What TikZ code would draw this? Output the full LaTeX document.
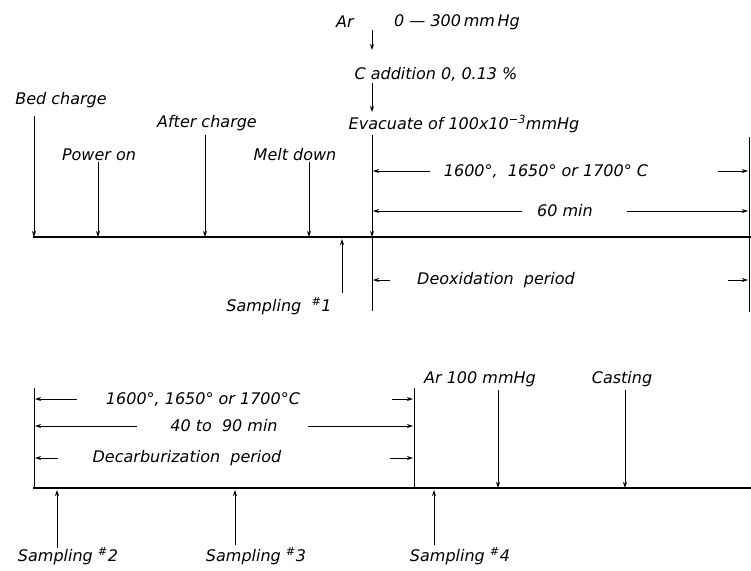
\documentclass[tikz,border=0pt]{standalone}
\usepackage{fontspec}
\setmainfont{DejaVu Sans}
\usetikzlibrary{arrows.meta}
\begin{document}
\begin{tikzpicture}[x=1pt,y=-1pt,
  lbl/.style={inner sep=0pt,font=\fontsize{16}{18}\selectfont\itshape},
  thin line/.style={line width=0.9pt},
  axis/.style={line width=1.2pt},
  arr/.style={line width=0.9pt,-{Stealth[length=6pt,width=4pt]}}]
\useasboundingbox (0,0) rectangle (751,570);
\fill[white] (0,0) rectangle (751,570);
% ---------- top section ----------
\node[lbl] (ar) at (345,22) {Ar};
\node[lbl] (arp) at (457,22) {0 — 300\,mm\,Hg};
\node[lbl] (cadd) at (436,74) {C addition 0, 0.13 \%};
\node[lbl] (evac) at (464,124) {Evacuate of 100x10\textsuperscript{−3}mmHg};
\node[lbl] (bed) at (61,100) {Bed charge};
\node[lbl] (pow) at (99,155) {Power on};
\node[lbl] (aft) at (207,123) {After charge};
\node[lbl] (melt) at (295,155) {Melt down};
\node[lbl] (t1) at (546,171) {1600°,\ \ 1650° or 1700° C};
\node[lbl] (m60) at (565,211) {60 min};
\node[lbl] (deox) at (496,280) {Deoxidation\ \ period};
\node[lbl] (s1) at (279,306) {Sampling\ \ \textsuperscript{\#}1};

\coordinate (tl0) at (33,237);
\coordinate (tl1) at (751,237);
\draw[axis] (tl0) -- (tl1);

\coordinate (ar0) at (372,30);  \coordinate (ar1) at (372,50);
\coordinate (c0) at (372,83);   \coordinate (c1) at (372,112);
\coordinate (e0) at (372,135);  \coordinate (e1) at (372,237);
\coordinate (e2) at (372,311);
\draw[arr] (ar0) -- (ar1);
\draw[arr] (c0) -- (c1);
\draw[arr] (e0) -- (e1);
\draw[thin line] (e1) -- (e2);
\coordinate (r0) at (749,137); \coordinate (r1) at (749,312);
\draw[thin line] (r0) -- (r1);

\coordinate (b0) at (34,116);  \coordinate (b1) at (34,237);
\coordinate (p0) at (98,162);  \coordinate (p1) at (98,237);
\coordinate (a0) at (205,135); \coordinate (a1) at (205,237);
\coordinate (md0) at (309,162);\coordinate (md1) at (309,237);
\draw[arr] (b0) -- (b1);
\draw[arr] (p0) -- (p1);
\draw[arr] (a0) -- (a1);
\draw[arr] (md0) -- (md1);
\coordinate (s10) at (342,293); \coordinate (s11) at (342,239);
\draw[arr] (s10) -- (s11);

\coordinate (tla) at (430,171); \coordinate (tlb) at (373,171);
\coordinate (tra) at (718,171); \coordinate (trb) at (748,171);
\draw[arr] (tla) -- (tlb);
\draw[arr] (tra) -- (trb);
\coordinate (mla) at (522,211); \coordinate (mlb) at (373,211);
\coordinate (mra) at (627,211); \coordinate (mrb) at (748,211);
\draw[arr] (mla) -- (mlb);
\draw[arr] (mra) -- (mrb);
\coordinate (dla) at (390,280); \coordinate (dlb) at (373,280);
\coordinate (dra) at (728,280); \coordinate (drb) at (748,280);
\draw[arr] (dla) -- (dlb);
\draw[arr] (dra) -- (drb);

% ---------- bottom section ----------
\node[lbl] (t2) at (203,399) {1600°,\ 1650° or 1700°C};
\node[lbl] (m40) at (224,426) {40 to\ \ 90 min};
\node[lbl] (dec) at (187,458) {Decarburization\ \ period};
\node[lbl] (ar100) at (480,379) {Ar 100 mmHg};
\node[lbl] (cast) at (622,379) {Casting};
\node[lbl] (s2) at (68,556) {Sampling \textsuperscript{\#}2};
\node[lbl] (s3) at (256,556) {Sampling \textsuperscript{\#}3};
\node[lbl] (s4) at (460,556) {Sampling \textsuperscript{\#}4};

\coordinate (bl0) at (33,488);
\coordinate (bl1) at (751,488);
\draw[axis] (bl0) -- (bl1);
\coordinate (v10) at (34,388);  \coordinate (v11) at (34,488);
\coordinate (v20) at (414,388); \coordinate (v21) at (414,488);
\draw[thin line] (v10) -- (v11);
\draw[thin line] (v20) -- (v21);

\coordinate (u1a) at (77,399);  \coordinate (u1b) at (35,399);
\coordinate (u1c) at (392,399); \coordinate (u1d) at (413,399);
\draw[arr] (u1a) -- (u1b);
\draw[arr] (u1c) -- (u1d);
\coordinate (u2a) at (137,426); \coordinate (u2b) at (35,426);
\coordinate (u2c) at (308,426); \coordinate (u2d) at (413,426);
\draw[arr] (u2a) -- (u2b);
\draw[arr] (u2c) -- (u2d);
\coordinate (u3a) at (58,458);  \coordinate (u3b) at (35,458);
\coordinate (u3c) at (390,458); \coordinate (u3d) at (413,458);
\draw[arr] (u3a) -- (u3b);
\draw[arr] (u3c) -- (u3d);

\coordinate (ar1a) at (498,390); \coordinate (ar1b) at (498,488);
\coordinate (ca0) at (625,390);  \coordinate (ca1) at (625,488);
\draw[arr] (ar1a) -- (ar1b);
\draw[arr] (ca0) -- (ca1);

\coordinate (s2a) at (57,548);  \coordinate (s2b) at (57,490);
\coordinate (s3a) at (235,545); \coordinate (s3b) at (235,490);
\coordinate (s4a) at (434,545); \coordinate (s4b) at (434,490);
\draw[arr] (s2a) -- (s2b);
\draw[arr] (s3a) -- (s3b);
\draw[arr] (s4a) -- (s4b);
\end{tikzpicture}
\end{document}
